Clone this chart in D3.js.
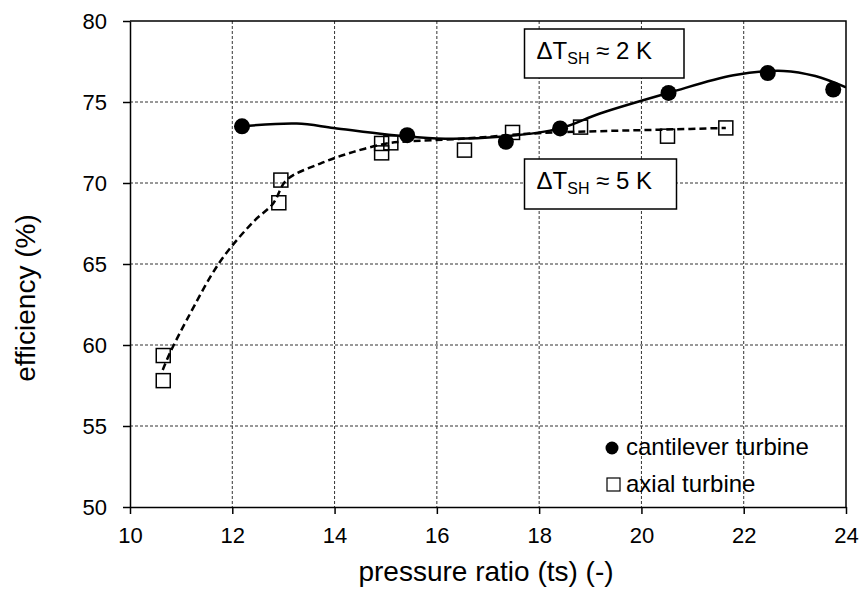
<!DOCTYPE html>
<html lang="en">
    <head>
        <meta charset="utf-8">
        <title>Turbine efficiency</title>
        <script src="https://d3js.org/d3.v7.min.js"></script>
        <style type="text/css">
            body { margin: 0; background: #fff; }
            text { font-family: "Liberation Sans", Arial, sans-serif; fill: #000; }
        </style>
    </head>
    <body>
        <script type="text/javascript">

            //1. sizes
            const svgW = 863;
            const svgH = 594;
            const margin = {top: 21, right: 17, bottom: 87, left: 130};

            //2. data
            const xTicks = [10, 12, 14, 16, 18, 20, 22, 24];
            const yTicks = [50, 55, 60, 65, 70, 75, 80];

            const cantX = [12.19, 15.42, 17.35, 18.41, 20.53, 22.47, 23.75];
            const cantY = [73.50, 72.95, 72.54, 73.37, 75.56, 76.79, 75.77];

            const axialX = [10.65, 10.65, 12.91, 12.95, 14.92, 14.92, 15.10, 16.54, 17.48, 18.81, 20.51, 21.65];
            const axialY = [59.35, 57.80, 68.78, 70.18, 72.44, 71.86, 72.48, 72.03, 73.12, 73.45, 72.89, 73.40];

            // trend lines as drawn in the picture
            const cantTrendX = [12.19, 13.26, 13.98, 15.02, 16.0, 17.23, 18.41, 19.19, 20.53, 21.8, 22.78, 23.4, 24.0];
            const cantTrendY = [73.50, 73.67, 73.40, 72.99, 72.75, 72.85, 73.37, 74.29, 75.56, 76.65, 76.92, 76.6, 75.9];
            const axialTrendX = [10.64, 10.78, 11.11, 11.76, 12.41, 12.8, 13.06, 13.72, 14.37, 15.02, 15.28, 16.58, 17.89, 19.19, 20.49, 21.65];
            const axialTrendY = [58.46, 59.50, 61.55, 65.14, 67.60, 68.74, 70.18, 71.2, 71.92, 72.44, 72.54, 72.75, 73.06, 73.2, 73.3, 73.4];

            const cant = cantX.map((x, i) => [x, cantY[i]]);
            const axial = axialX.map((x, i) => [x, axialY[i]]);
            const cantTrend = cantTrendX.map((x, i) => [x, cantTrendY[i]]);
            const axialTrend = axialTrendX.map((x, i) => [x, axialTrendY[i]]);

            //3. scales
            const xScale = d3.scaleLinear()
                            .domain([10, 24])
                            .range([margin.left, svgW - margin.right]);

            const yScale = d3.scaleLinear()
                            .domain([50, 80])
                            .range([svgH - margin.bottom, margin.top]);

            //4. svg
            const svg = d3.select("body")
                        .append("svg")
                        .attr("width", svgW)
                        .attr("height", svgH);

            const x0 = xScale(10), x1 = xScale(24);
            const y0 = yScale(50), y1 = yScale(80);

            // dashed grid
            svg.append("g")
                .selectAll("line")
                .data(xTicks.slice(1, -1))
                .enter()
                .append("line")
                .attr("x1", d => xScale(d)).attr("x2", d => xScale(d))
                .attr("y1", y1).attr("y2", y0)
                .attr("stroke", "#333").attr("stroke-width", 1)
                .attr("stroke-dasharray", "3,2");

            svg.append("g")
                .selectAll("line")
                .data(yTicks.slice(1, -1))
                .enter()
                .append("line")
                .attr("x1", x0).attr("x2", x1)
                .attr("y1", d => yScale(d)).attr("y2", d => yScale(d))
                .attr("stroke", "#333").attr("stroke-width", 1)
                .attr("stroke-dasharray", "3,2");

            // top and right frame
            svg.append("path")
                .attr("d", `M${x0},${y1}H${x1}V${y0}`)
                .attr("fill", "none")
                .attr("stroke", "#000")
                .attr("stroke-width", 1.5);

            // axes
            const bottomAxis = d3.axisBottom(xScale)
                                .tickValues(xTicks)
                                .tickSize(7)
                                .tickSizeOuter(0)
                                .tickPadding(13);

            const gx = svg.append("g")
                .attr("transform", "translate(0," + y0 + ")")
                .call(bottomAxis);

            const leftAxis = d3.axisLeft(yScale)
                                .tickValues(yTicks)
                                .tickSize(7)
                                .tickSizeOuter(0)
                                .tickPadding(16);

            const gy = svg.append("g")
                .attr("transform", "translate(" + x0 + ",0)")
                .call(leftAxis);

            [gx, gy].forEach(g => {
                g.select(".domain").attr("stroke", "#000").attr("stroke-width", 1.5);
                g.selectAll(".tick line").attr("stroke", "#000").attr("stroke-width", 1.5);
                g.selectAll("text")
                    .attr("font-family", "Liberation Sans, Arial, sans-serif")
                    .attr("font-size", "22px")
                    .attr("fill", "#000");
            });
            gy.selectAll("text").attr("dy", "0.36em");

            // axis titles
            svg.append("text")
                .attr("x", 486)
                .attr("y", 581)
                .attr("text-anchor", "middle")
                .attr("font-size", "28px")
                .text("pressure ratio (ts) (-)");

            svg.append("text")
                .attr("transform", "translate(35,298) rotate(-90)")
                .attr("text-anchor", "middle")
                .attr("font-size", "28px")
                .text("efficiency (%)");

            // trend lines
            const line = d3.line()
                        .x(d => xScale(d[0]))
                        .y(d => yScale(d[1]))
                        .curve(d3.curveCatmullRom.alpha(0.5));

            svg.append("defs").append("clipPath")
                .attr("id", "plot")
                .append("rect")
                .attr("x", x0).attr("y", y1)
                .attr("width", x1 - x0).attr("height", y0 - y1);

            svg.append("path")
                .datum(axialTrend)
                .attr("d", line)
                .attr("fill", "none")
                .attr("stroke", "#000")
                .attr("stroke-width", 2.5)
                .attr("stroke-dasharray", "7,4")
                .attr("clip-path", "url(#plot)");

            svg.append("path")
                .datum(cantTrend)
                .attr("d", line)
                .attr("fill", "none")
                .attr("stroke", "#000")
                .attr("stroke-width", 2.5)
                .attr("clip-path", "url(#plot)");

            // markers
            svg.selectAll("rect.axial")
                .data(axial)
                .enter()
                .append("rect")
                .attr("class", "axial")
                .attr("x", d => xScale(d[0]) - 7)
                .attr("y", d => yScale(d[1]) - 7)
                .attr("width", 14)
                .attr("height", 14)
                .attr("fill", "none")
                .attr("stroke", "#000")
                .attr("stroke-width", 1.5);

            svg.selectAll("circle.cant")
                .data(cant)
                .enter()
                .append("circle")
                .attr("class", "cant")
                .attr("cx", d => xScale(d[0]))
                .attr("cy", d => yScale(d[1]))
                .attr("r", 8)
                .attr("fill", "#000");

            // annotation boxes
            const notes = [
                {label: "2 K", x: 524.5, y: 29, w: 159.5, h: 49},
                {label: "5 K", x: 524.5, y: 159, w: 152, h: 50}
            ];
            notes.forEach(n => {
                svg.append("rect")
                    .attr("x", n.x).attr("y", n.y)
                    .attr("width", n.w).attr("height", n.h)
                    .attr("fill", "#fff")
                    .attr("stroke", "#000")
                    .attr("stroke-width", 1.5);
                const t = svg.append("text")
                    .attr("x", n.x + 12)
                    .attr("y", n.y + 29.5)
                    .attr("font-size", "24px");
                t.append("tspan").text("\u0394T");
                t.append("tspan").attr("font-size", "16px").attr("dy", 5).text("SH");
                t.append("tspan").attr("dy", -5).text(" \u2248 " + n.label);
            });

            // legend
            svg.append("circle")
                .attr("cx", 612).attr("cy", 448)
                .attr("r", 6.5)
                .attr("fill", "#000");
            svg.append("text")
                .attr("x", 626).attr("y", 455)
                .attr("font-size", "24px")
                .text("cantilever turbine");

            svg.append("rect")
                .attr("x", 607).attr("y", 478)
                .attr("width", 13).attr("height", 13)
                .attr("fill", "#fff")
                .attr("stroke", "#000")
                .attr("stroke-width", 1.2);
            svg.append("text")
                .attr("x", 626).attr("y", 491.5)
                .attr("font-size", "24px")
                .text("axial turbine");

        </script>
    </body>
</html>
